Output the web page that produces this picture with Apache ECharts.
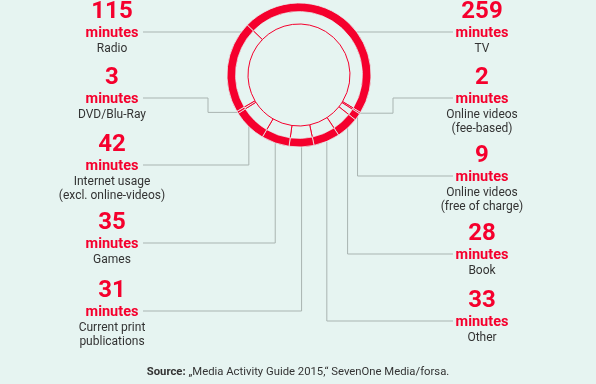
<!DOCTYPE html>
<html>
<head>
<meta charset="utf-8">
<script src="https://cdn.jsdelivr.net/npm/echarts@6/dist/echarts.min.js"></script>
<style>
html, body { margin: 0; padding: 0; background: #e6f4f1; }
#main { width: 596px; height: 384px; }
</style>
</head>
<body>
<div id="main"></div>
<script>
// data, clockwise from the top-left of the ring
var names = ['TV', 'Online videos\n(fee-based)', 'Online videos\n(free of charge)', 'Book', 'Other',
    'Current print\npublications', 'Games', 'Internet usage\n(excl. online-videos)', 'DVD/Blu-Ray', 'Radio'];
var minutes = [259, 2, 9, 28, 33, 31, 35, 42, 3, 115];
var unit = 'minutes';
var source = '„Media Activity Guide 2015,“ SevenOne Media/forsa.';

// label placement
var side = ['r', 'r', 'r', 'r', 'r', 'l', 'l', 'l', 'l', 'l'];
var labelTop = [-2, 64, 142, 220, 287, 277, 209, 131, 64, -2];
var lineMode = ['flat', 'elbow', 'drop', 'drop', 'drop', 'drop', 'drop', 'drop', 'elbow', 'flat'];
var elbowX = { 1: 393, 8: 208 };

var red = '#f5002d';
var bg = '#e6f4f1';
var grey = '#a9b4b1';
var cx = 299, cy = 75, R = 72;
var startAngle = 136;

var chart = echarts.init(document.getElementById('main'));

var total = minutes.reduce(function (a, b) { return a + b; }, 0);
var lines = [];
var cum = 0;
for (var i = 0; i < minutes.length; i++) {
    var a0 = startAngle - cum / total * 360;
    var a1 = a0 - minutes[i] / total * 360;
    cum += minutes[i];
    var mid = (a0 + a1) / 2 * Math.PI / 180;
    var ax = cx + R * Math.cos(mid);
    var ay = cy - R * Math.sin(mid);
    var my = labelTop[i] + 34;
    var endX = side[i] === 'l' ? 143 : 453;
    var pts;
    if (lineMode[i] === 'flat') {
        var dx = Math.sqrt(R * R - (my - cy) * (my - cy));
        pts = [[endX, my], [side[i] === 'l' ? cx - dx : cx + dx, my]];
    } else if (lineMode[i] === 'elbow') {
        pts = [[endX, my], [elbowX[i], my], [elbowX[i], ay], [ax, ay]];
    } else {
        pts = [[endX, my], [ax, my], [ax, ay]];
    }
    lines.push({
        type: 'polyline',
        shape: { points: pts },
        style: { stroke: grey, lineWidth: 1, fill: null },
        silent: true
    });
}

var pieData = minutes.map(function (v, i) {
    return { name: names[i], value: v };
});

var option = {
    backgroundColor: bg,
    animation: false,
    title: {
        text: '{b|Source:} ' + source,
        left: 'center',
        bottom: 1,
        textStyle: {
            fontFamily: 'Roboto',
            fontSize: 11.3,
            fontWeight: 'normal',
            color: '#333',
            rich: { b: { fontFamily: 'Roboto', fontSize: 11.3, fontWeight: 'bold', color: '#333' } }
        }
    },
    graphic: lines,
    series: [{
        type: 'pie',
        center: [cx, cy],
        radius: [51, 64],
        startAngle: startAngle,
        clockwise: true,
        silent: true,
        data: pieData,
        itemStyle: { color: bg, borderColor: red, borderWidth: 1 },
        labelLine: { show: false },
        label: {
            show: true,
            position: 'outside',
            formatter: function (p) {
                var nm = p.name.split('\n').map(function (s) { return '{n|' + s + '}'; }).join('\n');
                return '{v|' + p.value + '}\n{m|' + unit + '}\n' + nm;
            },
            rich: {
                v: { fontFamily: 'Roboto', fontSize: 24, fontWeight: 'bold', color: red, lineHeight: 26, align: 'center' },
                m: { fontFamily: 'Roboto', fontSize: 14.5, fontWeight: 'bold', color: red, lineHeight: 17, align: 'center' },
                n: { fontFamily: 'Roboto', fontSize: 12, color: '#333', lineHeight: 14.5, align: 'center' }
            }
        },
        labelLayout: function (p) {
            var i = p.dataIndex;
            return {
                x: side[i] === 'l' ? 112 : 482,
                y: labelTop[i] + 0.5,
                align: 'center',
                verticalAlign: 'top',
                hideOverlap: false,
                moveOverlap: false
            };
        }
    }, {
        type: 'pie',
        center: [cx, cy],
        radius: [63.5, R],
        startAngle: startAngle,
        clockwise: true,
        silent: true,
        data: pieData,
        itemStyle: { color: red, borderColor: bg, borderWidth: 0.8 },
        label: { show: false },
        labelLine: { show: false }
    }]
};

chart.setOption(option);
</script>
</body>
</html>
